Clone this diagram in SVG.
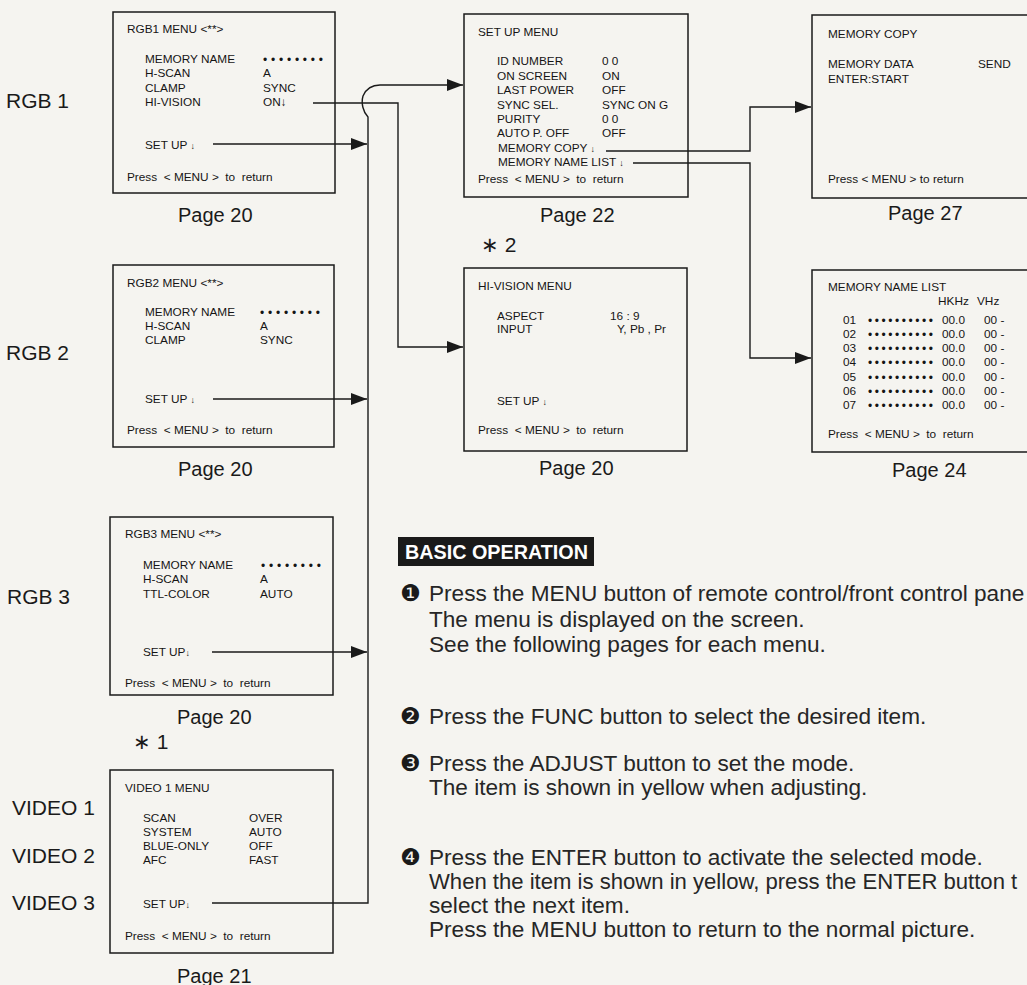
<svg xmlns="http://www.w3.org/2000/svg" width="1027" height="985" viewBox="0 0 1027 985">
<defs>
<style>
.m{font-family:"Liberation Sans",Arial,"DejaVu Sans",sans-serif;font-size:11.8px;fill:#151515;white-space:pre}
.d{font-family:"Liberation Sans",Arial,sans-serif;font-size:12px;fill:#151515}
.sa{font-size:9px}
.lb{font-family:"Liberation Sans",Arial,sans-serif;font-size:21px;fill:#1a1a1a}
.pg{font-family:"Liberation Sans",Arial,sans-serif;font-size:20px;fill:#1a1a1a}
.st{font-family:"Liberation Sans",Arial,sans-serif;font-size:22.6px;fill:#262626}
.num{font-family:"DejaVu Sans",sans-serif;font-size:23px;fill:#1a1a1a}
.box{fill:none;stroke:#1a1a1a;stroke-width:1.5}
.ln{fill:none;stroke:#1a1a1a;stroke-width:1.4}
</style>
<marker id="ah" viewBox="0 0 16 12" refX="16" refY="6" markerWidth="16" markerHeight="12" markerUnits="userSpaceOnUse" orient="auto">
<path d="M0,0 L16,6 L0,12 z" fill="#1a1a1a"/>
</marker>
</defs>
<rect x="0" y="0" width="1027" height="985" fill="#f5f4f0"/>

<g id="labels">
<text class="lb" x="6" y="108">RGB 1</text>
<text class="lb" x="6" y="360">RGB 2</text>
<text class="lb" x="7" y="604">RGB 3</text>
<text class="lb" x="12" y="815">VIDEO 1</text>
<text class="lb" x="12" y="863">VIDEO 2</text>
<text class="lb" x="12" y="910">VIDEO 3</text>
</g>

<g id="rgb1">
<rect class="box" x="113" y="12" width="222" height="181"/>
<text class="m" x="127" y="33">RGB1 MENU &lt;**&gt;</text>
<text class="m" x="145" y="63">MEMORY NAME</text>
<text class="d" x="263" y="64" textLength="60" lengthAdjust="spacing">••••••••</text>
<text class="m" x="145" y="77">H-SCAN</text><text class="m" x="263" y="77">A</text>
<text class="m" x="145" y="92">CLAMP</text><text class="m" x="263" y="92">SYNC</text>
<text class="m" x="145" y="106">HI-VISION</text><text class="m" x="263" y="106">ON↓</text>
<text class="m" x="145" y="149">SET UP <tspan class="sa">↓</tspan></text>
<text class="m" x="127" y="181">Press  &lt; MENU &gt;  to  return</text>
<text class="pg" x="178" y="222">Page 20</text>
</g>

<g id="setup">
<rect class="box" x="464" y="14" width="224" height="183"/>
<text class="m" x="478" y="36">SET UP MENU</text>
<text class="m" x="497" y="65">ID NUMBER</text><text class="m" x="602" y="65">0 0</text>
<text class="m" x="497" y="80">ON SCREEN</text><text class="m" x="602" y="80">ON</text>
<text class="m" x="497" y="94">LAST POWER</text><text class="m" x="602" y="94">OFF</text>
<text class="m" x="497" y="109">SYNC SEL.</text><text class="m" x="602" y="109">SYNC ON G</text>
<text class="m" x="497" y="123">PURITY</text><text class="m" x="602" y="123">0 0</text>
<text class="m" x="497" y="137">AUTO P. OFF</text><text class="m" x="602" y="137">OFF</text>
<text class="m" x="498" y="152">MEMORY COPY <tspan class="sa">↓</tspan></text>
<text class="m" x="498" y="166">MEMORY NAME LIST <tspan class="sa">↓</tspan></text>
<text class="m" x="478" y="183">Press  &lt; MENU &gt;  to  return</text>
<text class="pg" x="540" y="222">Page 22</text>
</g>

<g id="memcopy">
<path class="box" d="M1027,15 H812 V198 H1027"/>
<text class="m" x="828" y="38">MEMORY COPY</text>
<text class="m" x="828" y="68">MEMORY DATA</text><text class="m" x="978" y="68">SEND</text>
<text class="m" x="828" y="83">ENTER:START</text>
<text class="m" x="828" y="183">Press &lt; MENU &gt; to return</text>
<text class="pg" x="888" y="220">Page 27</text>
</g>

<g id="rgb2">
<rect class="box" x="113" y="265" width="221" height="182"/>
<text class="m" x="127" y="287">RGB2 MENU &lt;**&gt;</text>
<text class="m" x="145" y="316">MEMORY NAME</text>
<text class="d" x="260" y="317" textLength="60" lengthAdjust="spacing">••••••••</text>
<text class="m" x="145" y="330">H-SCAN</text><text class="m" x="260" y="330">A</text>
<text class="m" x="145" y="344">CLAMP</text><text class="m" x="260" y="344">SYNC</text>
<text class="m" x="145" y="403">SET UP <tspan class="sa">↓</tspan></text>
<text class="m" x="127" y="434">Press  &lt; MENU &gt;  to  return</text>
<text class="pg" x="178" y="476">Page 20</text>
</g>

<g id="hivision">
<text class="lb" x="481" y="252">∗ 2</text>
<rect class="box" x="464" y="268" width="223" height="183"/>
<text class="m" x="478" y="290">HI-VISION MENU</text>
<text class="m" x="497" y="320">ASPECT</text><text class="m" x="610" y="320">16 : 9</text>
<text class="m" x="497" y="333">INPUT</text><text class="m" x="617" y="333">Y, Pb , Pr</text>
<text class="m" x="497" y="405">SET UP <tspan class="sa">↓</tspan></text>
<text class="m" x="478" y="434">Press  &lt; MENU &gt;  to  return</text>
<text class="pg" x="539" y="475">Page 20</text>
</g>

<g id="memnamelist">
<path class="box" d="M1027,270 H812 V452 H1027"/>
<text class="m" x="828" y="291">MEMORY NAME LIST</text>
<text class="m" x="938" y="305">HKHz</text><text class="m" x="977" y="305">VHz</text>
<text class="m" x="843" y="324">01</text><text class="d" x="868" y="325" textLength="65" lengthAdjust="spacing">••••••••••</text><text class="m" x="942" y="324">00.0</text><text class="m" x="984" y="324">00 -</text>
<text class="m" x="843" y="338">02</text><text class="d" x="868" y="339" textLength="65" lengthAdjust="spacing">••••••••••</text><text class="m" x="942" y="338">00.0</text><text class="m" x="984" y="338">00 -</text>
<text class="m" x="843" y="352">03</text><text class="d" x="868" y="353" textLength="65" lengthAdjust="spacing">••••••••••</text><text class="m" x="942" y="352">00.0</text><text class="m" x="984" y="352">00 -</text>
<text class="m" x="843" y="366">04</text><text class="d" x="868" y="367" textLength="65" lengthAdjust="spacing">••••••••••</text><text class="m" x="942" y="366">00.0</text><text class="m" x="984" y="366">00 -</text>
<text class="m" x="843" y="381">05</text><text class="d" x="868" y="382" textLength="65" lengthAdjust="spacing">••••••••••</text><text class="m" x="942" y="381">00.0</text><text class="m" x="984" y="381">00 -</text>
<text class="m" x="843" y="395">06</text><text class="d" x="868" y="396" textLength="65" lengthAdjust="spacing">••••••••••</text><text class="m" x="942" y="395">00.0</text><text class="m" x="984" y="395">00 -</text>
<text class="m" x="843" y="409">07</text><text class="d" x="868" y="410" textLength="65" lengthAdjust="spacing">••••••••••</text><text class="m" x="942" y="409">00.0</text><text class="m" x="984" y="409">00 -</text>
<text class="m" x="828" y="438">Press  &lt; MENU &gt;  to  return</text>
<text class="pg" x="892" y="477">Page 24</text>
</g>

<g id="rgb3">
<rect class="box" x="110" y="517" width="223" height="178"/>
<text class="m" x="125" y="538">RGB3 MENU &lt;**&gt;</text>
<text class="m" x="143" y="569">MEMORY NAME</text>
<text class="d" x="261" y="570" textLength="60" lengthAdjust="spacing">••••••••</text>
<text class="m" x="143" y="583">H-SCAN</text><text class="m" x="260" y="583">A</text>
<text class="m" x="143" y="598">TTL-COLOR</text><text class="m" x="260" y="598">AUTO</text>
<text class="m" x="143" y="656">SET UP<tspan class="sa">↓</tspan></text>
<text class="m" x="125" y="687">Press  &lt; MENU &gt;  to  return</text>
<text class="pg" x="177" y="724">Page 20</text>
</g>

<g id="video1">
<text class="lb" x="133" y="749">∗ 1</text>
<rect class="box" x="110" y="770" width="223" height="183"/>
<text class="m" x="125" y="792">VIDEO 1 MENU</text>
<text class="m" x="143" y="822">SCAN</text><text class="m" x="249" y="822">OVER</text>
<text class="m" x="143" y="836">SYSTEM</text><text class="m" x="249" y="836">AUTO</text>
<text class="m" x="143" y="850">BLUE-ONLY</text><text class="m" x="249" y="850">OFF</text>
<text class="m" x="143" y="864">AFC</text><text class="m" x="249" y="864">FAST</text>
<text class="m" x="143" y="908">SET UP<tspan class="sa">↓</tspan></text>
<text class="m" x="125" y="940">Press  &lt; MENU &gt;  to  return</text>
<text class="pg" x="177" y="983">Page 21</text>
</g>

<g id="connectors">
<line class="ln" x1="213" y1="144" x2="367" y2="144" marker-end="url(#ah)"/>
<line class="ln" x1="213" y1="399" x2="367" y2="399" marker-end="url(#ah)"/>
<line class="ln" x1="212" y1="652" x2="367" y2="652" marker-end="url(#ah)"/>
<path class="ln" d="M212,903 H368 V117 C363,112 361,103 363,96 C366,89 371,85 380,85 H463" marker-end="url(#ah)"/>
<path class="ln" d="M313,103 H398 V347 H463" marker-end="url(#ah)"/>
<path class="ln" d="M606,151 H750 V107 H811" marker-end="url(#ah)"/>
<path class="ln" d="M633,163 H750 V358 H811" marker-end="url(#ah)"/>
</g>

<g id="basic">
<rect x="398" y="537" width="196" height="29" fill="#1a1a1a"/>
<text x="405" y="559" font-family="Liberation Sans, Arial, sans-serif" font-weight="bold" font-size="21" fill="#ffffff" textLength="183" lengthAdjust="spacingAndGlyphs">BASIC OPERATION</text>
<text class="num" x="400" y="601">❶</text>
<text class="st" x="429" y="601">Press the MENU button of remote control/front control pane</text>
<text class="st" x="429" y="627">The menu is displayed on the screen.</text>
<text class="st" x="429" y="652">See the following pages for each menu.</text>
<text class="num" x="400" y="724">❷</text>
<text class="st" x="429" y="724">Press the FUNC button to select the desired item.</text>
<text class="num" x="400" y="771">❸</text>
<text class="st" x="429" y="771">Press the ADJUST button to set the mode.</text>
<text class="st" x="429" y="795">The item is shown in yellow when adjusting.</text>
<text class="num" x="400" y="865">❹</text>
<text class="st" x="429" y="865">Press the ENTER button to activate the selected mode.</text>
<text class="st" x="429" y="889" style="font-size:22.1px">When the item is shown in yellow, press the ENTER button t</text>
<text class="st" x="429" y="913">select the next item.</text>
<text class="st" x="429" y="937">Press the MENU button to return to the normal picture.</text>
</g>
</svg>
